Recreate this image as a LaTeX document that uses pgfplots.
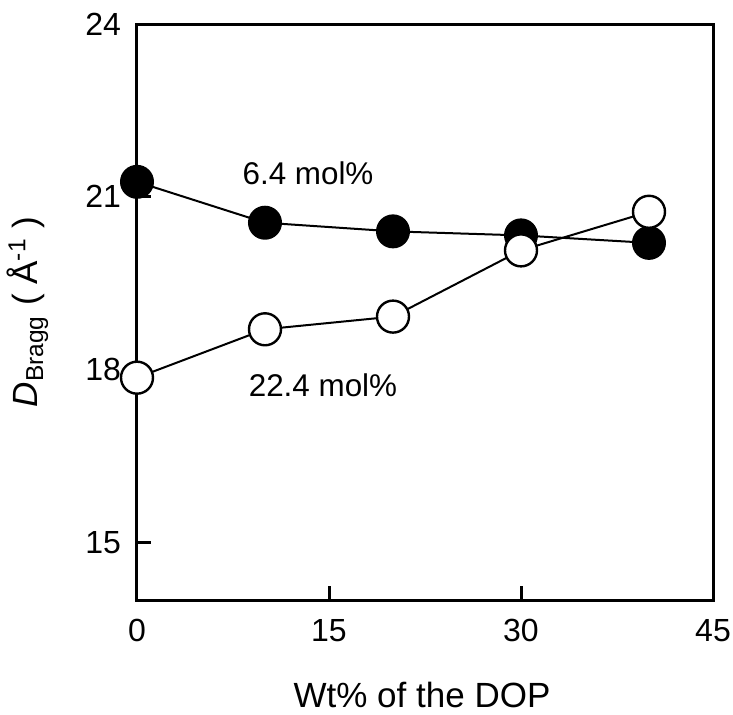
\documentclass[border=0pt]{standalone}
\usepackage{fontspec}
\setmainfont{Liberation Sans}
\usepackage{pgfplots}
\pgfplotsset{compat=1.18}
\newcommand{\tickfont}{\fontsize{16}{19}\selectfont}
\begin{document}
\begin{tikzpicture}
\begin{axis}[
  at={(0pt,0pt)}, anchor=south west,
  scale only axis, width=288pt, height=288pt,
  xmin=0, xmax=45, ymin=14, ymax=24,
  xtick={0,15,30,45}, ytick={15,18,21,24},
  xtick pos=bottom, ytick pos=left,
  tick align=inside,
  major tick length=7pt,
  every tick/.style={black, line width=1.5pt},
  axis line style={line width=1.5pt},
  clip=false,
  /pgf/number format/assume math mode=true,
  xticklabel={\tickfont\pgfmathprintnumber{\tick}},
  yticklabel={\tickfont\pgfmathprintnumber{\tick}},
  yticklabel style={xshift=-4.5pt},
  xticklabel style={yshift=-6pt},
  xlabel={Wt\% of the DOP},
  xlabel style={at={(axis description cs:0.5,0)}, anchor=base, yshift=-53.5pt, xshift=-1.5pt, font=\fontsize{17.5}{20}\selectfont},
  ylabel={\textit{D}\textsubscript{Bragg} ( Å\textsuperscript{-1} )},
  ylabel style={at={(axis description cs:0,0.5)}, anchor=base, yshift=49.5pt, font=\fontsize{17.5}{20}\selectfont},
]
\addplot[black, line width=1pt, mark=*, mark size=8pt, mark options={fill=black, draw=black, line width=1pt}]
  coordinates {(0,21.26) (10,20.55) (20,20.40) (30,20.33) (40,20.20)};
\addplot[black, line width=1pt, mark=*, mark size=8pt, mark options={fill=white, draw=black, line width=1.2pt}]
  coordinates {(0,17.86) (10,18.70) (20,18.92) (30,20.07) (40,20.74)};
\node[font=\fontsize{15.7}{18}\selectfont, anchor=center] at (axis cs:13.36,21.41) {6.4 mol\%};
\node[font=\fontsize{15.7}{18}\selectfont, anchor=center] at (axis cs:14.53,17.72) {22.4 mol\%};
\end{axis}
\pgfresetboundingbox
\path[use as bounding box] (-68.5pt,-57pt) rectangle (298pt,300pt);
\end{tikzpicture}
\end{document}
